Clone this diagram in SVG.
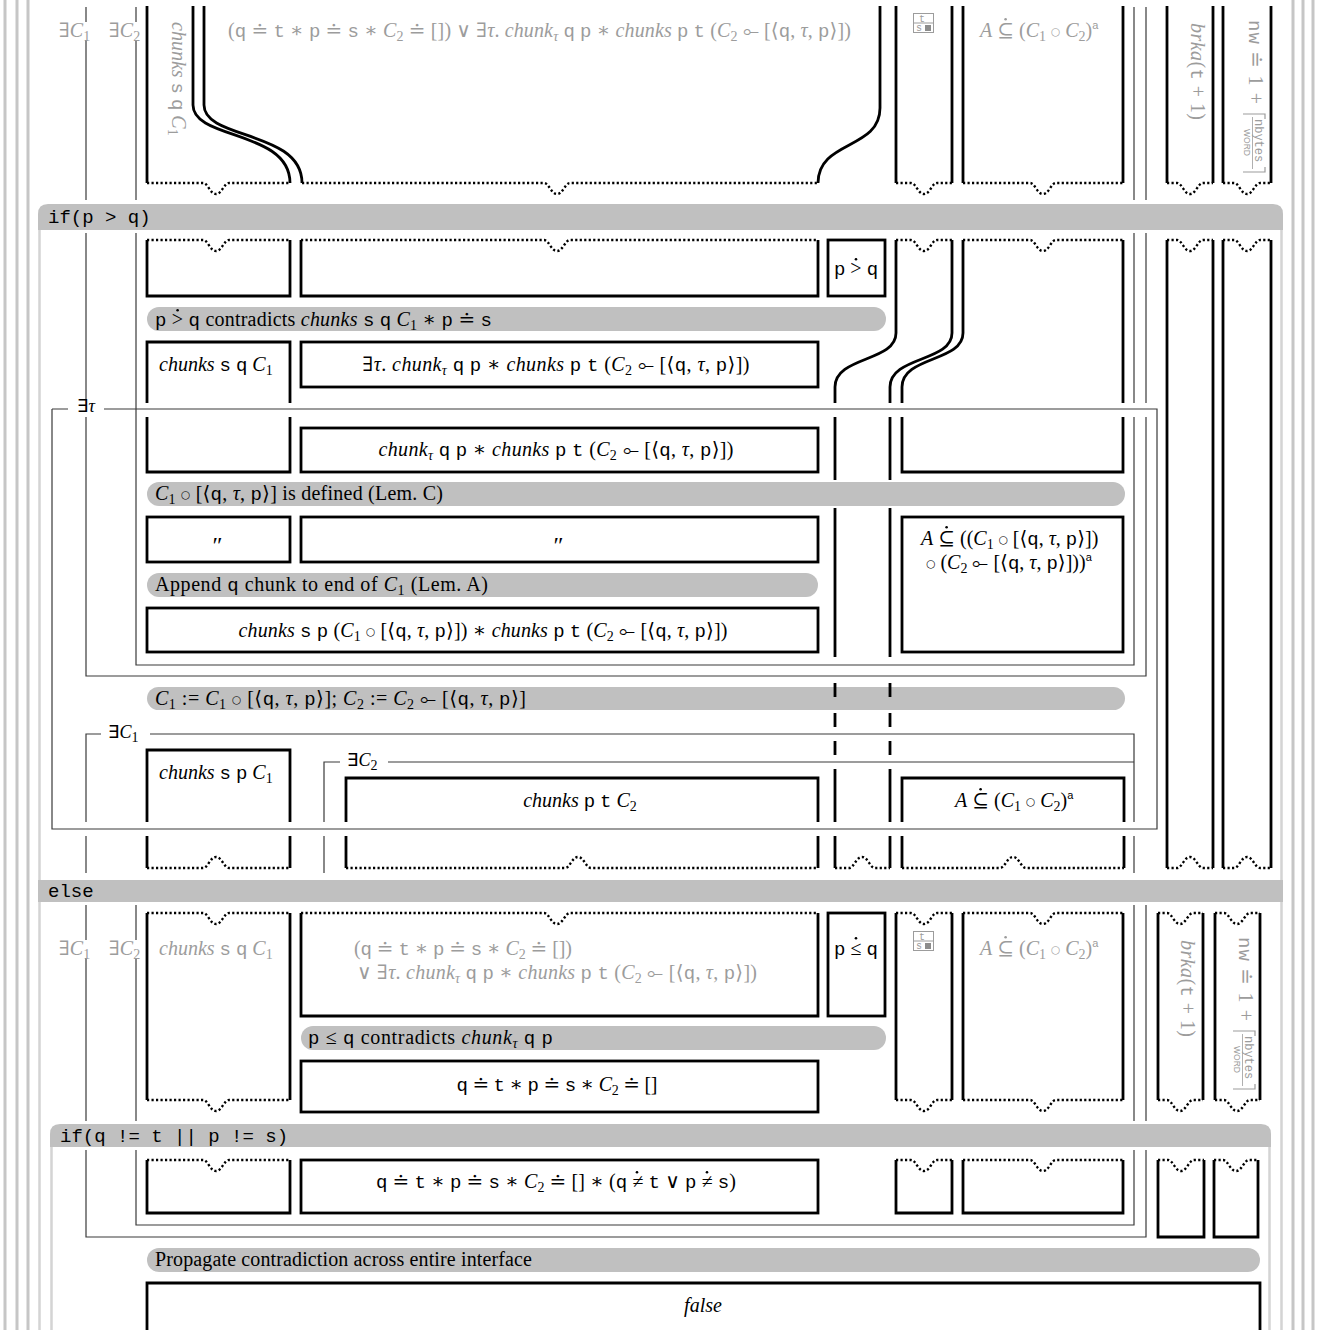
<svg xmlns="http://www.w3.org/2000/svg" width="1318" height="1330" viewBox="0 0 1318 1330">
<style>
.og{stroke:#c6c6c6;stroke-width:3;fill:none}
.fr{stroke:#d4d4d4;stroke-width:2.5;fill:none}
.bar{fill:#c0c0c0}
.k{stroke:#000;stroke-width:2.8;fill:none}
.d{stroke:#000;stroke-width:2.4;fill:none;stroke-dasharray:2.2 2.3}
.sc{stroke:#3a3a3a;stroke-width:1.2;fill:none}
.t{font-family:"Liberation Serif","DejaVu Serif","DejaVu Sans",serif;font-size:20px;fill:#000}
.g{fill:#9c9c9c}
.i{font-style:italic}
.m{font-family:"Liberation Mono","DejaVu Sans Mono",monospace;font-size:19px;font-style:normal}
.s{font-size:14px;baseline-shift:-4px}
.o{font-family:"DejaVu Sans",sans-serif;font-size:10.5px;baseline-shift:2.5px;font-style:normal}
.c{font-family:"Liberation Mono","DejaVu Sans Mono",monospace;font-size:19px;fill:#000}
.lb{font-family:"Liberation Serif","DejaVu Sans",serif;font-size:18px;fill:#000}
.sup{font-family:"Liberation Sans",sans-serif;font-size:11px;baseline-shift:8px;font-style:normal}
.ic{fill:#fff;stroke:#9c9c9c;stroke-width:1}
.gl{stroke:#9c9c9c;stroke-width:1.2;fill:none}
.dt{fill:#000}
.dg{fill:#9c9c9c}
</style>
<rect width="1318" height="1330" fill="#fff"/>
<g id="outer-frames">
<path class="og" d="M5,0V1330M17,0V1330M28,0V1330M1293,0V1330M1303,0V1330M1313,0V1330"/>
<path class="fr" d="M39.5,220V1330M1281.5,220V1330"/>
<path class="fr" d="M51.5,1140V1330M1269.5,1140V1330"/>
</g>
<g id="bars">
<path class="bar" d="M38,230V214Q38,204 48,204H1273Q1283,204 1283,214V230Z"/>
<text class="c" x="48" y="223">if(p &gt; q)</text>
<rect class="bar" x="38" y="880" width="1245" height="22"/>
<text class="c" x="48" y="897">else</text>
<path class="bar" d="M50,1147V1134Q50,1124 60,1124H1261Q1271,1124 1271,1134V1147Z"/>
<text class="c" x="60" y="1142">if(q != t || p != s)</text>
</g>
<g id="step-contradict1">
<rect class="bar" x="147" y="307" width="739" height="24" rx="12"/>
<text class="t" x="155" y="326" textLength="337"><tspan class="m">p</tspan> &gt; <tspan class="m">q</tspan> contradicts <tspan class="i">chunks</tspan> <tspan class="m">s</tspan> <tspan class="m">q</tspan> <tspan class="i">C</tspan><tspan class="s">1</tspan> ∗ <tspan class="m">p</tspan> ≐ <tspan class="m">s</tspan></text>
<circle class="dt" cx="177.6" cy="310.2" r="1.3"/>
</g>
<g id="step-lemC">
<rect class="bar" x="147" y="482" width="978" height="24" rx="12"/>
<text class="t" x="155" y="500" textLength="288"><tspan class="i">C</tspan><tspan class="s">1</tspan> <tspan class="o">○</tspan> [⟨<tspan class="m">q</tspan>, <tspan class="i">τ</tspan>, <tspan class="m">p</tspan>⟩] is defined (Lem. C)</text>
</g>
<g id="step-lemA">
<rect class="bar" x="147" y="573" width="671" height="24" rx="12"/>
<text class="t" x="155" y="591" textLength="333">Append <tspan class="m">q</tspan> chunk to end of <tspan class="i">C</tspan><tspan class="s">1</tspan> (Lem. A)</text>
</g>
<g id="step-assign">
<rect class="bar" x="147" y="687" width="978" height="23" rx="11.5"/>
<text class="t" x="155" y="705" textLength="371"><tspan class="i">C</tspan><tspan class="s">1</tspan> := <tspan class="i">C</tspan><tspan class="s">1</tspan> <tspan class="o">○</tspan> [⟨<tspan class="m">q</tspan>, <tspan class="i">τ</tspan>, <tspan class="m">p</tspan>⟩]; <tspan class="i">C</tspan><tspan class="s">2</tspan> := <tspan class="i">C</tspan><tspan class="s">2</tspan> ⟜ [⟨<tspan class="m">q</tspan>, <tspan class="i">τ</tspan>, <tspan class="m">p</tspan>⟩]</text>
</g>
<g id="step-contradict2">
<rect class="bar" x="301" y="1026" width="585" height="24" rx="12"/>
<text class="t" x="308" y="1044" textLength="245"><tspan class="m">p</tspan> ≤ <tspan class="m">q</tspan> contradicts <tspan class="i">chunk</tspan><tspan class="s i">τ</tspan> <tspan class="m">q</tspan> <tspan class="m">p</tspan></text>
</g>
<g id="step-propagate">
<rect class="bar" x="147" y="1248" width="1113" height="24" rx="12"/>
<text class="t" x="155" y="1266" textLength="377">Propagate contradiction across entire interface</text>
</g>

<g id="scopes">
<path class="sc" d="M86,7V22M86,40V200M136,7V22M136,40V200M1134,7V200M1146,7V200"/>
<text class="t g" x="59" y="37">∃<tspan class="i">C</tspan><tspan class="s">1</tspan></text>
<text class="t g" x="109" y="37">∃<tspan class="i">C</tspan><tspan class="s">2</tspan></text>
<path class="sc" d="M86,233V400M86,417V676H1146V417M1146,233V403M136,233V665H1134V417M1134,233V403"/>
<path class="sc" d="M52,409H68M104,409H1157V829H52V409"/>
<text class="lb" x="77" y="412">∃<tspan class="i">τ</tspan></text>
<path class="sc" d="M86,873V836M86,822V734H101M150,734H1134V822M1134,836V873"/>
<text class="lb" x="108" y="738">∃<tspan class="i">C</tspan><tspan class="s">1</tspan></text>
<path class="sc" d="M324,873V836M324,822V762H340M388,762H1134"/>
<text class="lb" x="347" y="766">∃<tspan class="i">C</tspan><tspan class="s">2</tspan></text>
<path class="sc" d="M86,905V940M86,958V1121M136,905V940M136,958V1121M1134,905V1121M1146,905V1121"/>
<text class="t g" x="59" y="955">∃<tspan class="i">C</tspan><tspan class="s">1</tspan></text>
<text class="t g" x="109" y="955">∃<tspan class="i">C</tspan><tspan class="s">2</tspan></text>
<path class="sc" d="M86,1150V1237H1146V1150M136,1150V1225H1134V1150"/>
</g>

<g id="connectors">
<path class="k" d="M193,6V105C193,140 290,130 290,183"/>
<path class="k" d="M204,6V105C204,140 302,130 302,183"/>
<path class="k" d="M880,6V108C880,150 818,140 818,183"/>
<path class="k" d="M896,240V333C896,362 835,356 835,387V403"/>
<path class="k" d="M952,240V333C952,362 890,356 890,387V403"/>
<path class="k" d="M963,240V333C963,362 902,356 902,387V403"/>
<path class="k" d="M835,417V480M890,417V480M835,508V657M890,508V657M835,683V697M890,683V697M835,713V727M890,713V727M835,741V755M890,741V755M835,769V822M890,769V822M835,836V868M890,836V868"/>
<path class="d" d="M835,868H849C854,868 856,857 862,857C868,857 870,868 875,868H890"/>
</g>

<g id="pre-chunks-sq">
<path class="k" d="M147,6V183"/>
<path class="d" d="M147,183H203C208,183 210,194 216,194C222,194 224,183 229,183H290"/>
<text class="t g" transform="translate(172,22) rotate(90)"><tspan class="i">chunks</tspan> <tspan class="m">s</tspan> <tspan class="m">q</tspan> <tspan class="i">C</tspan><tspan class="s">1</tspan></text>
</g>
<g id="pre-disj">
<path class="d" d="M302,183H544C549,183 551,194 557,194C563,194 565,183 570,183H818"/>
<text class="t g" x="228" y="37" textLength="623">(<tspan class="m">q</tspan> ≐ <tspan class="m">t</tspan> ∗ <tspan class="m">p</tspan> ≐ <tspan class="m">s</tspan> ∗ <tspan class="i">C</tspan><tspan class="s">2</tspan> ≐ []) ∨ ∃<tspan class="i">τ</tspan>. <tspan class="i">chunk</tspan><tspan class="s i">τ</tspan> <tspan class="m">q</tspan> <tspan class="m">p</tspan> ∗ <tspan class="i">chunks</tspan> <tspan class="m">p</tspan> <tspan class="m">t</tspan> (<tspan class="i">C</tspan><tspan class="s">2</tspan> ⟜ [⟨<tspan class="m">q</tspan>, <tspan class="i">τ</tspan>, <tspan class="m">p</tspan>⟩])</text>
</g>
<g id="pre-ts">
<path class="k" d="M896,6V183M952,6V183"/>
<path class="d" d="M896,183H911C916,183 918,194 924,194C930,194 932,183 937,183H952"/>
<rect class="ic" x="913.5" y="13.5" width="20" height="19"/>
<path class="ic" d="M913.5,23H933.5"/>
<text x="919" y="21.5" font-family="Liberation Mono" font-size="10" fill="#9c9c9c">t</text>
<text x="916" y="31" font-family="Liberation Mono" font-size="10" fill="#9c9c9c">s</text>
<rect x="925" y="25" width="6" height="6" fill="#8c8c8c"/>
</g>
<g id="pre-A">
<path class="k" d="M963,6V183M1123,6V183"/>
<path class="d" d="M963,183H1030C1035,183 1037,194 1043,194C1049,194 1051,183 1056,183H1123"/>
<text class="t g" x="980" y="37"><tspan class="i">A</tspan> ⊆ (<tspan class="i">C</tspan><tspan class="s">1</tspan> <tspan class="o">○</tspan> <tspan class="i">C</tspan><tspan class="s">2</tspan>)<tspan class="sup">a</tspan></text>
<circle class="dg" cx="1005.6" cy="19.3" r="1.3"/>
</g>
<g id="pre-brka">
<path class="k" d="M1167,6V183M1213,6V183"/>
<path class="d" d="M1167,183H1177C1182,183 1184,194 1190,194C1196,194 1198,183 1203,183H1213"/>
<text class="t g" transform="translate(1191,23) rotate(90)" textLength="97"><tspan class="i">brka</tspan>(<tspan class="m">t</tspan> + 1)</text>
</g>
<g id="pre-nw">
<path class="k" d="M1223,6V183M1271,6V183"/>
<path class="d" d="M1223,183H1234C1239,183 1241,194 1247,194C1253,194 1255,183 1260,183H1271"/>
<g transform="translate(1249,20) rotate(90)">
<text class="t g" x="0" y="0" textLength="84"><tspan class="m">nw</tspan> ≐ 1 + </text>
<path class="gl" d="M94,6V-16H99M147,-16H152V6"/>
<text x="99" y="-6" font-family="Liberation Mono" font-size="12" fill="#9c9c9c">nbytes</text>
<path d="M97,-3.5H149" stroke="#9c9c9c" stroke-width="0.8"/>
<text x="109" y="5" font-family="Liberation Sans" font-size="8.5" fill="#9c9c9c">WORD</text>
</g>
</g>

<g id="if-col1">
<path class="d" d="M147,240H203C208,240 210,251 216,251C222,251 224,240 229,240H290"/>
<path class="k" d="M147,240V296H290V240"/>
</g>
<g id="if-col2">
<path class="d" d="M301,240H544C549,240 551,251 557,251C563,251 565,240 570,240H818"/>
<path class="k" d="M301,240V296H818V240"/>
</g>
<g id="if-cond">
<rect class="k" x="828" y="240" width="57" height="56"/>
<text class="t" x="856" y="275" text-anchor="middle"><tspan class="m">p</tspan> &gt; <tspan class="m">q</tspan></text>
<circle class="dt" cx="856" cy="259.2" r="1.3"/>
</g>
<g id="if-ts-top">
<path class="d" d="M896,240H911C916,240 918,251 924,251C930,251 932,240 937,240H952"/>
</g>
<g id="if-A-top">
<path class="d" d="M963,240H1030C1035,240 1037,251 1043,251C1049,251 1051,240 1056,240H1123"/>
<path class="k" d="M1123,240V403M902,417V472H1123V417"/>
</g>
<g id="if-brka">
<path class="d" d="M1167,240H1177C1182,240 1184,251 1190,251C1196,251 1198,240 1203,240H1213"/>
<path class="k" d="M1167,240V868M1213,240V868"/>
<path class="d" d="M1167,868H1177C1182,868 1184,857 1190,857C1196,857 1198,868 1203,868H1213"/>
</g>
<g id="if-nw">
<path class="d" d="M1223,240H1234C1239,240 1241,251 1247,251C1253,251 1255,240 1260,240H1271"/>
<path class="k" d="M1223,240V868M1271,240V868"/>
<path class="d" d="M1223,868H1234C1239,868 1241,857 1247,857C1253,857 1255,868 1260,868H1271"/>
</g>
<g id="chunks-sq-C1">
<path class="k" d="M147,403V342H290V403M147,417V472H290V417"/>
<text class="t" x="159" y="371"><tspan class="i">chunks</tspan> <tspan class="m">s</tspan> <tspan class="m">q</tspan> <tspan class="i">C</tspan><tspan class="s">1</tspan></text>
</g>
<g id="exists-tau-chunk">
<rect class="k" x="301" y="342" width="517" height="45"/>
<text class="t" x="556" y="371" text-anchor="middle" textLength="387">∃<tspan class="i">τ</tspan>. <tspan class="i">chunk</tspan><tspan class="s i">τ</tspan> <tspan class="m">q</tspan> <tspan class="m">p</tspan> ∗ <tspan class="i">chunks</tspan> <tspan class="m">p</tspan> <tspan class="m">t</tspan> (<tspan class="i">C</tspan><tspan class="s">2</tspan> ⟜ [⟨<tspan class="m">q</tspan>, <tspan class="i">τ</tspan>, <tspan class="m">p</tspan>⟩])</text>
</g>
<g id="chunk-tau">
<rect class="k" x="301" y="428" width="517" height="44"/>
<text class="t" x="556" y="456" text-anchor="middle" textLength="355"><tspan class="i">chunk</tspan><tspan class="s i">τ</tspan> <tspan class="m">q</tspan> <tspan class="m">p</tspan> ∗ <tspan class="i">chunks</tspan> <tspan class="m">p</tspan> <tspan class="m">t</tspan> (<tspan class="i">C</tspan><tspan class="s">2</tspan> ⟜ [⟨<tspan class="m">q</tspan>, <tspan class="i">τ</tspan>, <tspan class="m">p</tspan>⟩])</text>
</g>
<g id="ditto1">
<rect class="k" x="147" y="517" width="143" height="45"/>
<text class="t i" x="216" y="553" text-anchor="middle" style="font-size:24px">″</text>
</g>
<g id="ditto2">
<rect class="k" x="301" y="517" width="517" height="45"/>
<text class="t i" x="557" y="553" text-anchor="middle" style="font-size:24px">″</text>
</g>
<g id="A-append">
<rect class="k" x="902" y="517" width="221" height="135"/>
<text class="t" x="921" y="545"><tspan class="i">A</tspan> ⊆ ((<tspan class="i">C</tspan><tspan class="s">1</tspan> <tspan class="o">○</tspan> [⟨<tspan class="m">q</tspan>, <tspan class="i">τ</tspan>, <tspan class="m">p</tspan>⟩])</text>
<circle class="dt" cx="946.6" cy="527.3" r="1.3"/>
<text class="t" x="1009" y="569" text-anchor="middle"><tspan class="o">○</tspan> (<tspan class="i">C</tspan><tspan class="s">2</tspan> ⟜ [⟨<tspan class="m">q</tspan>, <tspan class="i">τ</tspan>, <tspan class="m">p</tspan>⟩]))<tspan class="sup">a</tspan></text>
</g>
<g id="chunks-sp-append">
<rect class="k" x="147" y="608" width="671" height="44"/>
<text class="t" x="483" y="637" text-anchor="middle" textLength="489"><tspan class="i">chunks</tspan> <tspan class="m">s</tspan> <tspan class="m">p</tspan> (<tspan class="i">C</tspan><tspan class="s">1</tspan> <tspan class="o">○</tspan> [⟨<tspan class="m">q</tspan>, <tspan class="i">τ</tspan>, <tspan class="m">p</tspan>⟩]) ∗ <tspan class="i">chunks</tspan> <tspan class="m">p</tspan> <tspan class="m">t</tspan> (<tspan class="i">C</tspan><tspan class="s">2</tspan> ⟜ [⟨<tspan class="m">q</tspan>, <tspan class="i">τ</tspan>, <tspan class="m">p</tspan>⟩])</text>
</g>
<g id="chunks-sp-C1">
<path class="k" d="M147,822V750H290V822M147,836V868M290,836V868"/>
<path class="d" d="M147,868H203C208,868 210,857 216,857C222,857 224,868 229,868H290"/>
<text class="t" x="159" y="779"><tspan class="i">chunks</tspan> <tspan class="m">s</tspan> <tspan class="m">p</tspan> <tspan class="i">C</tspan><tspan class="s">1</tspan></text>
</g>
<g id="chunks-pt-C2">
<path class="k" d="M346,822V778H818V822M346,836V868M818,836V868"/>
<path class="d" d="M346,868H565C570,868 572,857 578,857C584,857 586,868 591,868H818"/>
<text class="t" x="580" y="807" text-anchor="middle"><tspan class="i">chunks</tspan> <tspan class="m">p</tspan> <tspan class="m">t</tspan> <tspan class="i">C</tspan><tspan class="s">2</tspan></text>
</g>
<g id="A-final-if">
<path class="k" d="M902,822V778H1124V822M902,836V868M1124,836V868"/>
<path class="d" d="M902,868H1000C1005,868 1007,857 1013,857C1019,857 1021,868 1026,868H1124"/>
<text class="t" x="955" y="807"><tspan class="i">A</tspan> ⊆ (<tspan class="i">C</tspan><tspan class="s">1</tspan> <tspan class="o">○</tspan> <tspan class="i">C</tspan><tspan class="s">2</tspan>)<tspan class="sup">a</tspan></text>
<circle class="dt" cx="980.6" cy="789.3" r="1.3"/>
</g>

<g id="else-col1">
<path class="d" d="M147,913H203C208,913 210,924 216,924C222,924 224,913 229,913H290"/>
<path class="k" d="M147,913V1100M290,913V1100"/>
<path class="d" d="M147,1100H203C208,1100 210,1111 216,1111C222,1111 224,1100 229,1100H290"/>
<text class="t g" x="159" y="955"><tspan class="i">chunks</tspan> <tspan class="m">s</tspan> <tspan class="m">q</tspan> <tspan class="i">C</tspan><tspan class="s">1</tspan></text>
</g>
<g id="else-col2">
<path class="d" d="M301,913H544C549,913 551,924 557,924C563,924 565,913 570,913H818"/>
<path class="k" d="M301,913V1016H818V913"/>
<text class="t g" x="354" y="955" textLength="218">(<tspan class="m">q</tspan> ≐ <tspan class="m">t</tspan> ∗ <tspan class="m">p</tspan> ≐ <tspan class="m">s</tspan> ∗ <tspan class="i">C</tspan><tspan class="s">2</tspan> ≐ [])</text>
<text class="t g" x="357" y="979" textLength="400">∨ ∃<tspan class="i">τ</tspan>. <tspan class="i">chunk</tspan><tspan class="s i">τ</tspan> <tspan class="m">q</tspan> <tspan class="m">p</tspan> ∗ <tspan class="i">chunks</tspan> <tspan class="m">p</tspan> <tspan class="m">t</tspan> (<tspan class="i">C</tspan><tspan class="s">2</tspan> ⟜ [⟨<tspan class="m">q</tspan>, <tspan class="i">τ</tspan>, <tspan class="m">p</tspan>⟩])</text>
</g>
<g id="else-cond">
<rect class="k" x="828" y="913" width="57" height="103"/>
<text class="t" x="856" y="955" text-anchor="middle"><tspan class="m">p</tspan> ≤ <tspan class="m">q</tspan></text>
<circle class="dt" cx="856" cy="938.2" r="1.3"/>
</g>
<g id="else-ts">
<path class="d" d="M896,913H911C916,913 918,924 924,924C930,924 932,913 937,913H952"/>
<path class="k" d="M896,913V1100M952,913V1100"/>
<path class="d" d="M896,1100H911C916,1100 918,1111 924,1111C930,1111 932,1100 937,1100H952"/>
<rect class="ic" x="913.5" y="931.5" width="20" height="19"/>
<path class="ic" d="M913.5,941H933.5"/>
<text x="919" y="939.5" font-family="Liberation Mono" font-size="10" fill="#9c9c9c">t</text>
<text x="916" y="949" font-family="Liberation Mono" font-size="10" fill="#9c9c9c">s</text>
<rect x="925" y="943" width="6" height="6" fill="#8c8c8c"/>
</g>
<g id="else-A">
<path class="d" d="M963,913H1030C1035,913 1037,924 1043,924C1049,924 1051,913 1056,913H1123"/>
<path class="k" d="M963,913V1100M1123,913V1100"/>
<path class="d" d="M963,1100H1030C1035,1100 1037,1111 1043,1111C1049,1111 1051,1100 1056,1100H1123"/>
<text class="t g" x="980" y="955"><tspan class="i">A</tspan> ⊆ (<tspan class="i">C</tspan><tspan class="s">1</tspan> <tspan class="o">○</tspan> <tspan class="i">C</tspan><tspan class="s">2</tspan>)<tspan class="sup">a</tspan></text>
<circle class="dg" cx="1005.6" cy="937.3" r="1.3"/>
</g>
<g id="else-brka">
<path class="d" d="M1158,913H1167C1172,913 1174,924 1180,924C1186,924 1188,913 1193,913H1203"/>
<path class="k" d="M1158,913V1100M1203,913V1100"/>
<path class="d" d="M1158,1100H1167C1172,1100 1174,1111 1180,1111C1186,1111 1188,1100 1193,1100H1203"/>
<text class="t g" transform="translate(1181,940) rotate(90)" textLength="97"><tspan class="i">brka</tspan>(<tspan class="m">t</tspan> + 1)</text>
</g>
<g id="else-nw">
<path class="d" d="M1215,913H1224C1229,913 1231,924 1237,924C1243,924 1245,913 1250,913H1260"/>
<path class="k" d="M1215,913V1100M1260,913V1100"/>
<path class="d" d="M1215,1100H1224C1229,1100 1231,1111 1237,1111C1243,1111 1245,1100 1250,1100H1260"/>
<g transform="translate(1239,937) rotate(90)">
<text class="t g" x="0" y="0" textLength="84"><tspan class="m">nw</tspan> ≐ 1 + </text>
<path class="gl" d="M94,6V-16H99M147,-16H152V6"/>
<text x="99" y="-6" font-family="Liberation Mono" font-size="12" fill="#9c9c9c">nbytes</text>
<path d="M97,-3.5H149" stroke="#9c9c9c" stroke-width="0.8"/>
<text x="109" y="5" font-family="Liberation Sans" font-size="8.5" fill="#9c9c9c">WORD</text>
</g>
</g>
<g id="empty-heap">
<rect class="k" x="301" y="1061" width="517" height="51"/>
<text class="t" x="557" y="1091" text-anchor="middle" textLength="201"><tspan class="m">q</tspan> ≐ <tspan class="m">t</tspan> ∗ <tspan class="m">p</tspan> ≐ <tspan class="m">s</tspan> ∗ <tspan class="i">C</tspan><tspan class="s">2</tspan> ≐ []</text>
</g>

<g id="nested-col1">
<path class="d" d="M147,1160H203C208,1160 210,1171 216,1171C222,1171 224,1160 229,1160H290"/>
<path class="k" d="M147,1160V1213H290V1160"/>
</g>
<g id="nested-cond">
<rect class="k" x="301" y="1160" width="517" height="53"/>
<text class="t" x="556" y="1188" text-anchor="middle" textLength="360"><tspan class="m">q</tspan> ≐ <tspan class="m">t</tspan> ∗ <tspan class="m">p</tspan> ≐ <tspan class="m">s</tspan> ∗ <tspan class="i">C</tspan><tspan class="s">2</tspan> ≐ [] ∗ (<tspan class="m">q</tspan> ≠ <tspan class="m">t</tspan> ∨ <tspan class="m">p</tspan> ≠ <tspan class="m">s</tspan>)</text>
<circle class="dt" cx="637" cy="1172.2" r="1.3"/>
<circle class="dt" cx="707" cy="1172.2" r="1.3"/>
</g>
<g id="nested-ts">
<path class="d" d="M896,1160H911C916,1160 918,1171 924,1171C930,1171 932,1160 937,1160H952"/>
<path class="k" d="M896,1160V1213H952V1160"/>
</g>
<g id="nested-A">
<path class="d" d="M963,1160H1030C1035,1160 1037,1171 1043,1171C1049,1171 1051,1160 1056,1160H1123"/>
<path class="k" d="M963,1160V1213H1123V1160"/>
</g>
<g id="nested-brka">
<path class="d" d="M1158,1160H1168C1173,1160 1175,1171 1181,1171C1187,1171 1189,1160 1194,1160H1204"/>
<path class="k" d="M1158,1160V1237H1204V1160"/>
</g>
<g id="nested-nw">
<path class="d" d="M1214,1160H1223C1228,1160 1230,1171 1236,1171C1242,1171 1244,1160 1249,1160H1258"/>
<path class="k" d="M1214,1160V1237H1258V1160"/>
</g>
<g id="false-box">
<path class="k" d="M147,1331V1283H1260V1331"/>
<text class="t i" x="703" y="1312" text-anchor="middle">false</text>
</g>
</svg>
